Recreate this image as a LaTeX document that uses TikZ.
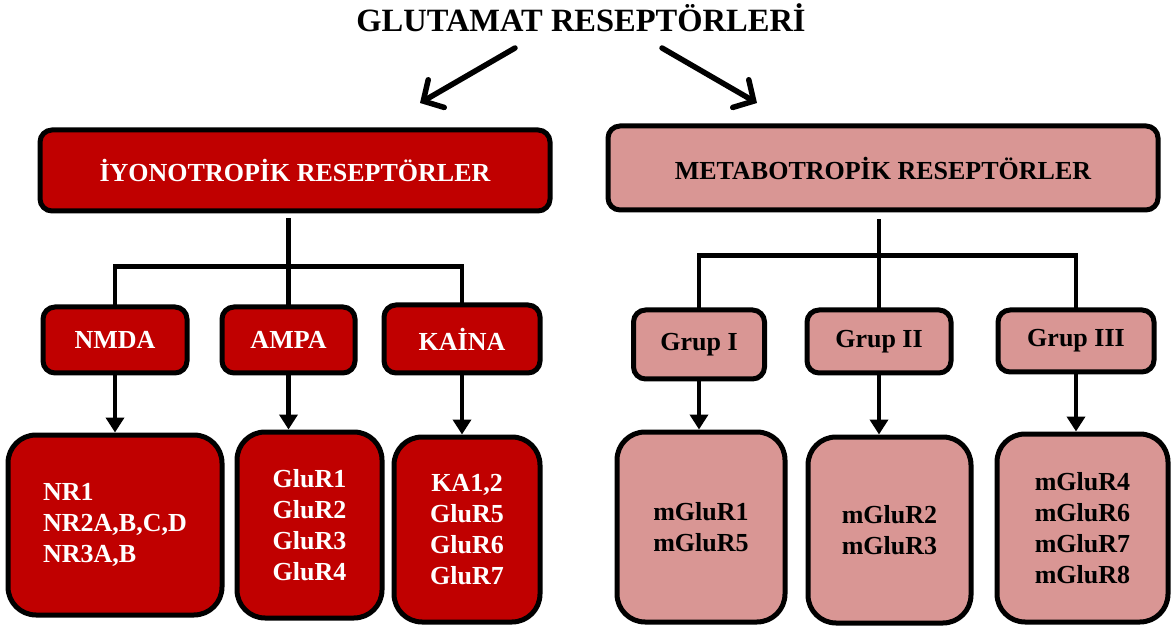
\documentclass[tikz,border=0pt]{standalone}
\usepackage{fontspec}
\setmainfont{Liberation Serif}
\usetikzlibrary{arrows.meta}
\definecolor{ired}{HTML}{C00000}
\definecolor{mpink}{HTML}{D99694}
\tikzset{
  box/.style={draw=black, line width=5pt, rounded corners=12pt, inner sep=0pt, font=\bfseries\fontsize{26}{31}\selectfont},
  ibox/.style={box, fill=ired, text=white},
  mbox/.style={box, fill=mpink, text=black},
  bigbox/.style={rounded corners=28pt, align=center},
  conn/.style={line width=4.5pt, line cap=rect},
  darr/.style={line width=4.5pt, -{Triangle[length=15pt,width=18pt]}},
  tarr/.style={line width=5.5pt, line cap=round, -{Straight Barb[length=15pt,width=32pt,line cap=round]}},
}
\begin{document}
\begin{tikzpicture}[x=1pt,y=-1pt]
\useasboundingbox (0,0) rectangle (1176,628);
% title
\node[anchor=base, inner sep=0pt, font=\bfseries\fontsize{32.5}{38}\selectfont] (title) at (581,32) {GLUTAMAT RESEPTÖRLERİ};
\coordinate (la) at (515,48);
\coordinate (lb) at (420,103);
\coordinate (ra) at (662,48);
\coordinate (rb) at (757,103);
\draw[tarr] (la) -- (lb);
\draw[tarr] (ra) -- (rb);
% level 1
\node[ibox, minimum width=510pt, minimum height=81pt] (iyon) at (295,170.5) {İYONOTROPİK RESEPTÖRLER};
\node[mbox, minimum width=550pt, minimum height=84pt] (meta) at (883,168) {METABOTROPİK RESEPTÖRLER};
% level 2 left
\node[ibox, minimum width=144pt, minimum height=66pt] (nmda) at (115,340) {NMDA};
\node[ibox, minimum width=133pt, minimum height=66pt] (ampa) at (288.5,340) {AMPA};
\node[ibox, minimum width=156pt, minimum height=68pt] (kaina) at (462,339) {KAİNA};
% level 2 right
\node[mbox, minimum width=131pt, minimum height=69pt] (g1) at (699,344.5) {Grup I};
\node[mbox, minimum width=144pt, minimum height=63pt] (g2) at (879,341.5) {Grup II};
\node[mbox, minimum width=156pt, minimum height=62pt] (g3) at (1076,341) {Grup III};
% level 3 left
\node[ibox, bigbox, align=left, minimum width=214pt, minimum height=180pt] (nr) at (115,525) {NR1\\NR2A,B,C,D\\NR3A,B};
\node[ibox, bigbox, minimum width=145pt, minimum height=186pt] (glur) at (309.5,525) {GluR1\\GluR2\\GluR3\\GluR4};
\node[ibox, bigbox, minimum width=146pt, minimum height=185pt] (ka) at (467,529.5) {KA1,2\\GluR5\\GluR6\\GluR7};
% level 3 right
\node[mbox, bigbox, minimum width=168pt, minimum height=190pt] (m1) at (701,527) {mGluR1\\mGluR5};
\node[mbox, bigbox, minimum width=163pt, minimum height=186pt] (m2) at (889.5,530) {mGluR2\\mGluR3};
\node[mbox, bigbox, minimum width=171pt, minimum height=188pt] (m3) at (1082.5,528) {mGluR4\\mGluR6\\mGluR7\\mGluR8};
% connectors left
\draw[conn] ([yshift=-7pt]ampa.north |- iyon.south) -- (ampa.north);
\draw[conn] (nmda.north) -- ++(0,-38) -| (kaina.north);
\draw[darr] (nmda.south) -- (nmda.south |- nr.north);
\draw[darr] (ampa.south) -- (ampa.south |- glur.north);
\draw[darr] (kaina.south) -- (kaina.south |- ka.north);
% connectors right
\draw[conn] ([yshift=-9pt]g2.north |- meta.south) -- (g2.north);
\draw[conn] (g1.north) -- ++(0,-52) -| (g3.north);
\draw[darr] (g1.south) -- (g1.south |- m1.north);
\draw[darr] (g2.south) -- (g2.south |- m2.north);
\draw[darr] (g3.south) -- (g3.south |- m3.north);
\end{tikzpicture}
\end{document}
